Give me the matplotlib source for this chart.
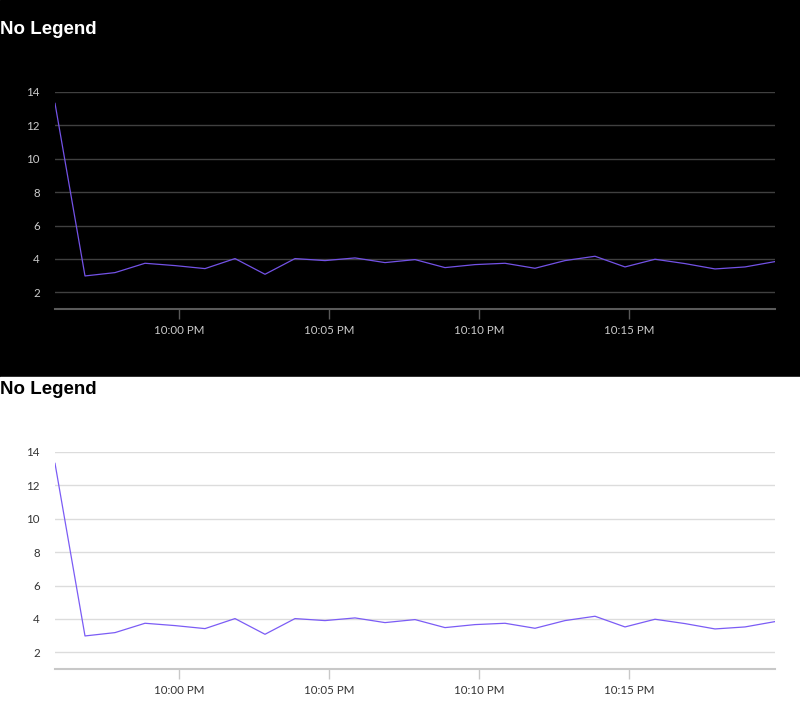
import datetime as dt
import matplotlib
matplotlib.use('Agg')
import matplotlib.pyplot as plt
import matplotlib.dates as mdates

# one sample per minute, starting 9:55:52 PM
start = dt.datetime(2024, 1, 1, 21, 55, 52)
values = [13.32, 2.98, 3.18, 3.74, 3.6, 3.42, 4.02, 3.08, 4.02, 3.9,
          4.06, 3.78, 3.96, 3.48, 3.66, 3.74, 3.44, 3.9, 4.16, 3.52,
          3.98, 3.72, 3.4, 3.52, 3.84]
times = [start + dt.timedelta(minutes=i) for i in range(len(values))]
y_ticks = [2, 4, 6, 8, 10, 12, 14]
x_ticks = [dt.datetime(2024, 1, 1, 22, m) for m in (0, 5, 10, 15)]

W, H = 800, 719
fig = plt.figure(figsize=(W / 100, H / 100), dpi=100)

themes = [
    # panel top, panel bottom, axes top, axes bottom, title y, colours
    dict(p0=0, p1=377, a0=92, a1=309, ty=30, bg='#000000', fg='#ffffff',
         tick='#cccccc', grid='#404040', axis='#5a5a5a', line='#7352e6'),
    dict(p0=377, p1=719, a0=452, a1=669, ty=390, bg='#ffffff', fg='#000000',
         tick='#333333', grid='#dcdcdc', axis='#c8c8c8', line='#7b5cf5'),
]

for t in themes:
    fig.patches.append(plt.Rectangle((0, 1 - t['p1'] / H), 1, (t['p1'] - t['p0']) / H,
                                     transform=fig.transFigure, color=t['bg'], zorder=-10))
    ax = fig.add_axes([55 / W, 1 - t['a1'] / H, 720 / W, (t['a1'] - t['a0']) / H])
    ax.set_facecolor('none')
    ax.plot(times, values, color=t['line'], linewidth=0.9)
    ax.set_xlim(times[0], times[-1])
    ax.set_ylim(1, 14)
    ax.set_yticks(y_ticks)
    ax.set_xticks(x_ticks)
    ax.xaxis.set_major_formatter(mdates.DateFormatter('%-I:%M %p'))
    ax.grid(axis='y', color=t['grid'], linewidth=1)
    ax.set_axisbelow(True)
    for side in ('top', 'right', 'left'):
        ax.spines[side].set_visible(False)
    ax.spines['bottom'].set_color(t['axis'])
    ax.spines['bottom'].set_linewidth(1.5)
    ax.tick_params(axis='y', length=0, pad=11, labelcolor=t['tick'], labelsize=8.3)
    ax.tick_params(axis='x', length=7, width=1, color=t['axis'], pad=4.5,
                   labelcolor=t['tick'], labelsize=8.3)
    for lab in ax.get_xticklabels() + ax.get_yticklabels():
        lab.set_family(['Lato', 'DejaVu Sans'])
    fig.text(0, 1 - t['ty'] / H, 'No Legend', color=t['fg'], fontsize=13.5,
             fontweight='bold', family=['Liberation Sans', 'DejaVu Sans'],
             ha='left', va='center')

fig.savefig('out.png', dpi=100)
